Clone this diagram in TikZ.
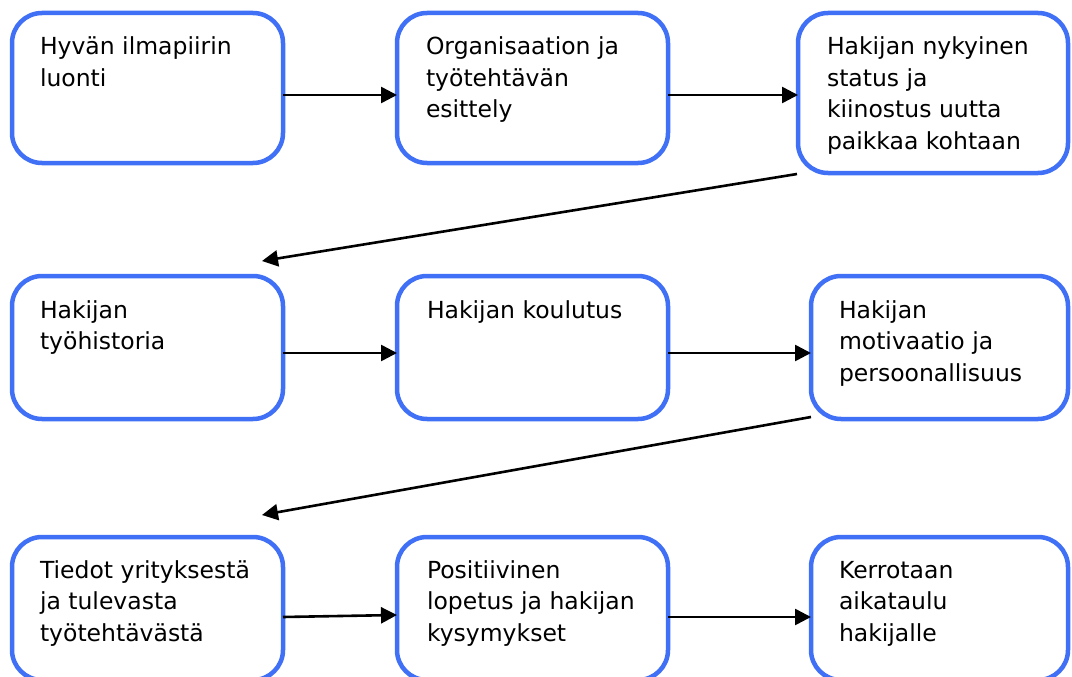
\documentclass[tikz,border=0pt]{standalone}
\usepackage{fontspec}
\setmainfont{DejaVu Sans}
\usetikzlibrary{calc,arrows.meta}
\definecolor{boxblue}{RGB}{64,112,245}
\begin{document}
\begin{tikzpicture}[x=1pt,y=-1pt,
  stage/.style={draw=boxblue, line width=4.5pt, rounded corners=30pt,
    anchor=north west, inner sep=0pt, outer sep=0pt, fill=white},
  txt/.style={anchor=base west, inner sep=0pt, outer sep=0pt,
    font=\fontsize{23.5}{31.5}\selectfont},
  flow/.style={line width=2.6pt, -{Triangle[length=16pt,width=16pt]}}
]
\useasboundingbox (0,0) rectangle (1072,677);

% row 1
\node[stage, minimum width=271pt, minimum height=150pt] (b1) at (12,13) {};
\node[stage, minimum width=271pt, minimum height=150pt] (b2) at (397,13) {};
\node[stage, minimum width=270pt, minimum height=160pt] (b3) at (798,13) {};
% row 2
\node[stage, minimum width=271pt, minimum height=143pt] (b4) at (12,276) {};
\node[stage, minimum width=271pt, minimum height=143pt] (b5) at (397,276) {};
\node[stage, minimum width=257pt, minimum height=143pt] (b6) at (811,276) {};
% row 3
\node[stage, minimum width=271pt, minimum height=143pt] (b7) at (12,537) {};
\node[stage, minimum width=271pt, minimum height=143pt] (b8) at (397,537) {};
\node[stage, minimum width=257pt, minimum height=143pt] (b9) at (811,537) {};

% labels
\node[txt] (t1) at ($(b1.north west)+(28,42)$) {\parbox[t]{240pt}{\raggedright Hyvän ilmapiirin\\luonti}};
\node[txt] (t2) at ($(b2.north west)+(29,42)$) {\parbox[t]{240pt}{\raggedright Organisaation ja\\työtehtävän\\esittely}};
\node[txt] (t3) at ($(b3.north west)+(29,42)$) {\parbox[t]{240pt}{\raggedright Hakijan nykyinen\\status ja\\kiinostus uutta\\paikkaa kohtaan}};
\node[txt] (t4) at ($(b4.north west)+(28,42)$) {\parbox[t]{240pt}{\raggedright Hakijan\\työhistoria}};
\node[txt] (t5) at ($(b5.north west)+(30,42)$) {\parbox[t]{240pt}{\raggedright Hakijan koulutus}};
\node[txt] (t6) at ($(b6.north west)+(28,42)$) {\parbox[t]{230pt}{\raggedright Hakijan\\motivaatio ja\\persoonallisuus}};
\node[txt] (t7) at ($(b7.north west)+(28,41)$) {\parbox[t]{240pt}{\raggedright Tiedot yrityksestä\\ja tulevasta\\työtehtävästä}};
\node[txt] (t8) at ($(b8.north west)+(30,41)$) {\parbox[t]{240pt}{\raggedright Positiivinen\\lopetus ja hakijan\\kysymykset}};
\node[txt] (t9) at ($(b9.north west)+(28,41)$) {\parbox[t]{230pt}{\raggedright Kerrotaan\\aikataulu\\hakijalle}};

% free ends of the row-change arrows
\coordinate (e1) at (262,261);
\coordinate (e2) at (262,515);

% connectors
\draw[flow] ($(b1.north east)+(0,82)$) -- ($(b2.north west)+(0,82)$);
\draw[flow] ($(b2.north east)+(0,82)$) -- ($(b3.north west)+(0,82)$);
\draw[flow] ($(b3.south west)+(-1,1)$) -- (e1);
\draw[flow] ($(b4.north east)+(0,77)$) -- ($(b5.north west)+(0,77)$);
\draw[flow] ($(b5.north east)+(0,77)$) -- ($(b6.north west)+(0,77)$);
\draw[flow] ($(b6.south west)+(0,-2)$) -- (e2);
\draw[flow] ($(b7.north east)+(0,80)$) -- ($(b8.north west)+(0,78)$);
\draw[flow] ($(b8.north east)+(0,80)$) -- ($(b9.north west)+(0,80)$);
\end{tikzpicture}
\end{document}
